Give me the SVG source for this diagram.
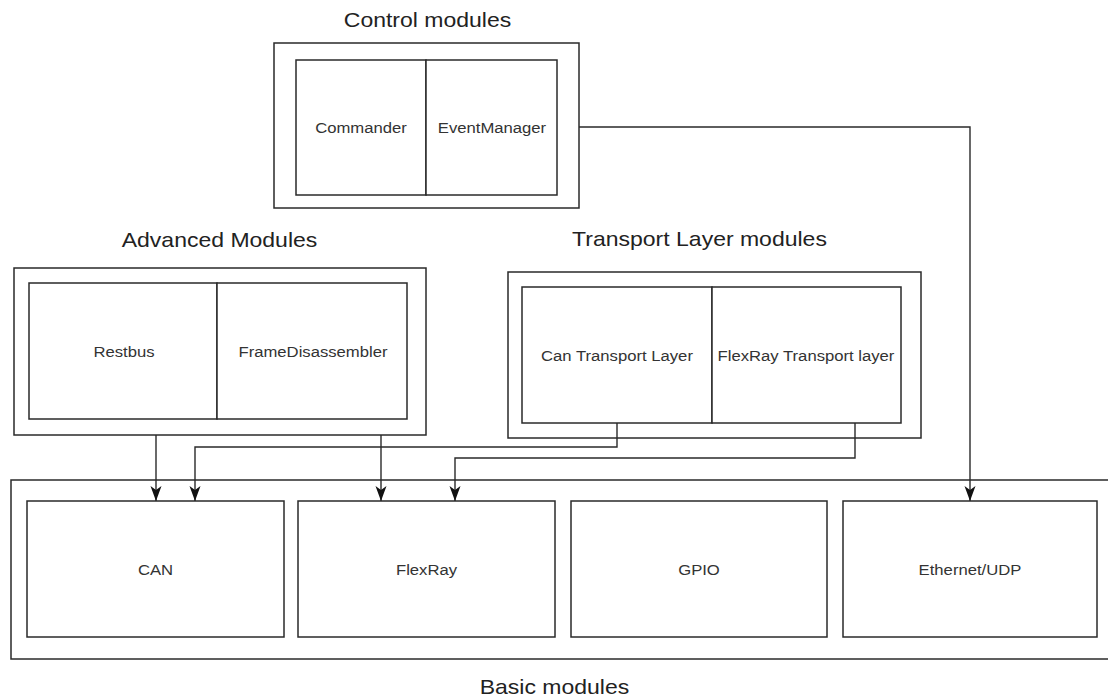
<svg xmlns="http://www.w3.org/2000/svg" width="1108" height="697" viewBox="0 0 1108 697">
  <style>
    .box { fill: #ffffff; stroke: #2a2a2a; stroke-width: 1.5; }
    .wire { fill: none; stroke: #2a2a2a; stroke-width: 1.4; }
    .title { font-family: "Liberation Sans", Arial, sans-serif; font-size: 20px; fill: #222; text-anchor: middle; }
    .label { font-family: "Liberation Sans", Arial, sans-serif; font-size: 14.5px; fill: #333; text-anchor: middle; }
  </style>
  <defs>
    <marker id="arrow" viewBox="0 0 15 12" refX="15" refY="6" markerWidth="15" markerHeight="12" markerUnits="userSpaceOnUse" orient="auto">
      <path d="M0,0.5 L15,6 L0,11.5 L4,6 Z" fill="#111"/>
    </marker>
  </defs>
  <rect width="1108" height="697" fill="#ffffff"/>

  <!-- Control modules -->
  <g id="control-modules">
    <rect class="box" x="274" y="43" width="305" height="165"/>
    <text class="title" transform="translate(427.5,27) scale(1.15,1)">Control modules</text>
    <g id="commander">
      <rect class="box" x="296" y="60" width="130" height="135"/>
      <text class="label" transform="translate(361,133) scale(1.15,1)">Commander</text>
    </g>
    <g id="event-manager">
      <rect class="box" x="426" y="60" width="131" height="135"/>
      <text class="label" transform="translate(492,133) scale(1.15,1)">EventManager</text>
    </g>
  </g>

  <!-- Advanced modules -->
  <g id="advanced-modules">
    <rect class="box" x="14" y="268" width="412" height="167"/>
    <text class="title" transform="translate(219.5,247) scale(1.15,1)">Advanced Modules</text>
    <g id="restbus">
      <rect class="box" x="29" y="283" width="188" height="136"/>
      <text class="label" transform="translate(124,357) scale(1.15,1)">Restbus</text>
    </g>
    <g id="frame-disassembler">
      <rect class="box" x="217" y="283" width="190" height="136"/>
      <text class="label" transform="translate(313,357) scale(1.15,1)">FrameDisassembler</text>
    </g>
  </g>

  <!-- Transport layer modules -->
  <g id="transport-modules">
    <rect class="box" x="508" y="272" width="413" height="166"/>
    <text class="title" transform="translate(699.5,245.5) scale(1.15,1)">Transport Layer modules</text>
    <g id="can-transport">
      <rect class="box" x="522" y="287" width="190" height="136"/>
      <text class="label" transform="translate(617,361) scale(1.15,1)">Can Transport Layer</text>
    </g>
    <g id="flexray-transport">
      <rect class="box" x="712" y="287" width="189" height="136"/>
      <text class="label" transform="translate(806,361) scale(1.15,1)">FlexRay Transport layer</text>
    </g>
  </g>

  <!-- Basic modules -->
  <g id="basic-modules">
    <rect class="box" x="11" y="480" width="1110" height="179"/>
    <text class="title" transform="translate(554.5,694) scale(1.15,1)">Basic modules</text>
    <g id="can">
      <rect class="box" x="27" y="501" width="257" height="136"/>
      <text class="label" transform="translate(155.5,575) scale(1.15,1)">CAN</text>
    </g>
    <g id="flexray">
      <rect class="box" x="298" y="501" width="257" height="136"/>
      <text class="label" transform="translate(426.5,575) scale(1.15,1)">FlexRay</text>
    </g>
    <g id="gpio">
      <rect class="box" x="571" y="501" width="256" height="136"/>
      <text class="label" transform="translate(699,575) scale(1.15,1)">GPIO</text>
    </g>
    <g id="ethernet">
      <rect class="box" x="843" y="501" width="254" height="136"/>
      <text class="label" transform="translate(970,575) scale(1.15,1)">Ethernet/UDP</text>
    </g>
  </g>

  <!-- Connectors -->
  <g id="connectors">
    <path class="wire" d="M156,435 V501" marker-end="url(#arrow)"/>
    <path class="wire" d="M617,423 V447 H195 V501" marker-end="url(#arrow)"/>
    <path class="wire" d="M381,435 V501" marker-end="url(#arrow)"/>
    <path class="wire" d="M855,423 V458 H455 V501" marker-end="url(#arrow)"/>
    <path class="wire" d="M579,127 H970 V501" marker-end="url(#arrow)"/>
  </g>
</svg>
